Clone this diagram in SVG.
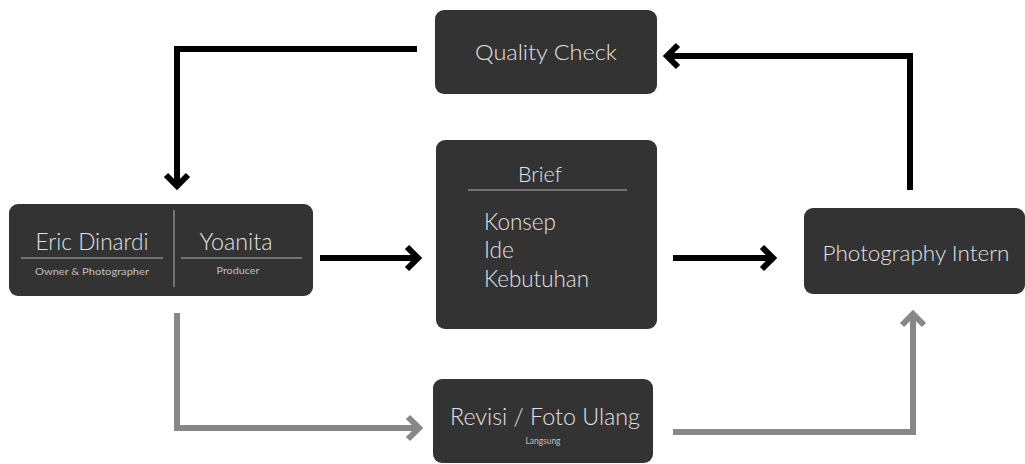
<svg xmlns="http://www.w3.org/2000/svg" width="1025" height="464" viewBox="0 0 1025 464">
<style>
.box{fill:#333333}
.t{font-family:Lato,"Noto Sans","DejaVu Sans",sans-serif;font-weight:300;fill:#e2e2e2}
.s{font-family:Lato,"Noto Sans","DejaVu Sans",sans-serif;font-weight:400;fill:#c0c0c0}
.rule{stroke:#8a8a8a;stroke-width:1.5}
.blk{fill:none;stroke:#000;stroke-width:6;stroke-linejoin:miter}
.gry{fill:none;stroke:#878787;stroke-width:6;stroke-linejoin:miter}
</style>
<defs>
<marker id="ab" markerUnits="userSpaceOnUse" markerWidth="30" markerHeight="30" viewBox="-15 -15 30 30" refX="0" refY="0" orient="auto">
<path d="M -10 -11 L 1 0 L -10 11" fill="none" stroke="#000" stroke-width="6"/>
</marker>
<marker id="ag" markerUnits="userSpaceOnUse" markerWidth="30" markerHeight="30" viewBox="-15 -15 30 30" refX="0" refY="0" orient="auto">
<path d="M -10 -11 L 1 0 L -10 11" fill="none" stroke="#878787" stroke-width="6"/>
</marker>
</defs>
<rect width="1025" height="464" fill="#ffffff"/>
<g id="connectors">
<path class="blk" d="M 417 49 H 177 V 185" marker-end="url(#ab)"/>
<path class="blk" d="M 910 190 V 56 H 668" marker-end="url(#ab)"/>
<path class="blk" d="M 320 258 H 417" marker-end="url(#ab)"/>
<path class="blk" d="M 673 258 H 772" marker-end="url(#ab)"/>
<path class="gry" d="M 177 313 V 428 H 418" marker-end="url(#ag)"/>
<path class="gry" d="M 673 432 H 913 V 315" marker-end="url(#ag)"/>
</g>
<g id="quality-check">
<rect class="box" x="435" y="10" width="222" height="84" rx="9"/>
<text class="t" x="546" y="60" font-size="22" text-anchor="middle" textLength="142" lengthAdjust="spacingAndGlyphs">Quality Check</text>
</g>
<g id="eric-yoanita">
<rect class="box" x="9" y="204" width="304" height="92" rx="9"/>
<line class="rule" x1="174" y1="210" x2="174" y2="287"/>
<line class="rule" x1="21" y1="258" x2="163" y2="258"/>
<line class="rule" x1="181" y1="258" x2="302" y2="258"/>
<text class="t" x="92" y="250" font-size="24" text-anchor="middle" textLength="113" lengthAdjust="spacingAndGlyphs">Eric Dinardi</text>
<text class="s" x="92" y="275" font-size="10" text-anchor="middle" textLength="114" lengthAdjust="spacingAndGlyphs">Owner &amp; Photographer</text>
<text class="t" x="236" y="250" font-size="24" text-anchor="middle" textLength="73" lengthAdjust="spacingAndGlyphs">Yoanita</text>
<text class="s" x="238" y="274" font-size="10" text-anchor="middle" textLength="43" lengthAdjust="spacingAndGlyphs">Producer</text>
</g>
<g id="brief">
<rect class="box" x="436" y="140" width="221" height="189" rx="9"/>
<text class="t" x="540" y="182" font-size="22" text-anchor="middle" textLength="44" lengthAdjust="spacingAndGlyphs">Brief</text>
<line class="rule" x1="468" y1="190" x2="627" y2="190"/>
<text class="t" x="484" y="230" font-size="23" textLength="72" lengthAdjust="spacingAndGlyphs">Konsep</text>
<text class="t" x="484" y="258" font-size="23" textLength="30" lengthAdjust="spacingAndGlyphs">Ide</text>
<text class="t" x="484" y="287" font-size="23" textLength="105" lengthAdjust="spacingAndGlyphs">Kebutuhan</text>
</g>
<g id="photography-intern">
<rect class="box" x="804" y="208" width="221" height="86" rx="9"/>
<text class="t" x="916" y="261" font-size="22" text-anchor="middle" textLength="187" lengthAdjust="spacingAndGlyphs">Photography Intern</text>
</g>
<g id="revisi">
<rect class="box" x="433" y="379" width="220" height="84" rx="9"/>
<text class="t" x="545" y="425" font-size="23" text-anchor="middle" textLength="190" lengthAdjust="spacingAndGlyphs">Revisi / Foto Ulang</text>
<text class="s" x="543" y="444" font-size="8.5" text-anchor="middle" textLength="35" lengthAdjust="spacingAndGlyphs">Langsung</text>
</g>
</svg>
